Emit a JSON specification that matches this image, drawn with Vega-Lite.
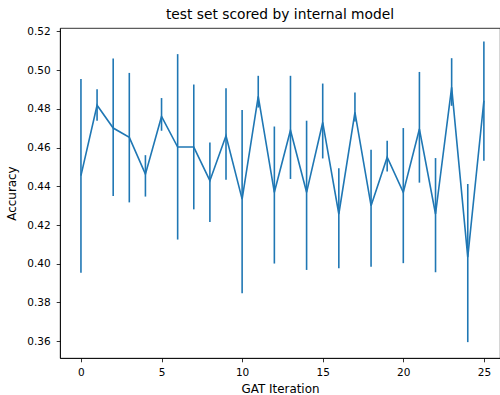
{
  "$schema": "https://vega.github.io/schema/vega-lite/v6.json",
  "autosize": {"type": "none"},
  "padding": {"left": 60, "top": 28, "right": 0, "bottom": 37},
  "width": 440,
  "height": 330,
  "title": {"text": "test set scored by internal model", "font": "DejaVu Sans", "fontSize": 13.8, "fontWeight": "normal", "color": "#000", "offset": 5},
  "config": {
    "view": {"stroke": "#000", "strokeWidth": 0.8},
    "axis": {
      "labelFont": "DejaVu Sans", "labelFontSize": 10.5, "labelColor": "#000",
      "titleFont": "DejaVu Sans", "titleFontSize": 11.9, "titleFontWeight": "normal", "titleColor": "#000",
      "domainColor": "#000", "domainWidth": 0.8, "tickColor": "#000", "tickWidth": 0.8, "tickSize": 3.8,
      "grid": false
    }
  },
  "data": {"values": [
    {"x": 0, "mean": 0.4455, "lo": 0.3953, "hi": 0.4954},
    {"x": 1, "mean": 0.4819, "lo": 0.4739, "hi": 0.4902},
    {"x": 2, "mean": 0.4701, "lo": 0.4350, "hi": 0.5060},
    {"x": 3, "mean": 0.4653, "lo": 0.4317, "hi": 0.4986},
    {"x": 4, "mean": 0.4463, "lo": 0.4347, "hi": 0.4561},
    {"x": 5, "mean": 0.4761, "lo": 0.4687, "hi": 0.4856},
    {"x": 6, "mean": 0.4603, "lo": 0.4125, "hi": 0.5083},
    {"x": 7, "mean": 0.4603, "lo": 0.4281, "hi": 0.4926},
    {"x": 8, "mean": 0.4429, "lo": 0.4216, "hi": 0.4627},
    {"x": 9, "mean": 0.4661, "lo": 0.4434, "hi": 0.4907},
    {"x": 10, "mean": 0.4334, "lo": 0.3848, "hi": 0.4794},
    {"x": 11, "mean": 0.4865, "lo": 0.4807, "hi": 0.4971},
    {"x": 12, "mean": 0.4369, "lo": 0.4001, "hi": 0.4709},
    {"x": 13, "mean": 0.4690, "lo": 0.4438, "hi": 0.4971},
    {"x": 14, "mean": 0.4369, "lo": 0.3968, "hi": 0.4739},
    {"x": 15, "mean": 0.4730, "lo": 0.4544, "hi": 0.4931},
    {"x": 16, "mean": 0.4257, "lo": 0.3977, "hi": 0.4494},
    {"x": 17, "mean": 0.4782, "lo": 0.4735, "hi": 0.4885},
    {"x": 18, "mean": 0.4300, "lo": 0.3985, "hi": 0.4589},
    {"x": 19, "mean": 0.4550, "lo": 0.4477, "hi": 0.4635},
    {"x": 20, "mean": 0.4369, "lo": 0.4003, "hi": 0.4701},
    {"x": 21, "mean": 0.4696, "lo": 0.4419, "hi": 0.4991},
    {"x": 22, "mean": 0.4257, "lo": 0.3956, "hi": 0.4546},
    {"x": 23, "mean": 0.4911, "lo": 0.4816, "hi": 0.5062},
    {"x": 24, "mean": 0.4034, "lo": 0.3595, "hi": 0.4412},
    {"x": 25, "mean": 0.4842, "lo": 0.4532, "hi": 0.5148}
  ]},
  "encoding": {
    "x": {"field": "x", "type": "quantitative", "title": "GAT Iteration",
      "scale": {"domain": [-1.3, 26.0], "nice": false, "zero": false},
      "axis": {"values": [0, 5, 10, 15, 20, 25], "labelPadding": 6, "titlePadding": 5}}
  },
  "layer": [
    {
      "mark": {"type": "rule", "color": "#1f77b4", "strokeWidth": 1.6},
      "encoding": {
        "y": {"field": "lo", "type": "quantitative", "title": "Accuracy",
          "scale": {"domain": [0.3513, 0.5218], "nice": false, "zero": false},
          "axis": {"values": [0.36, 0.38, 0.40, 0.42, 0.44, 0.46, 0.48, 0.50, 0.52], "format": ".2f", "labelPadding": 6, "titlePadding": 9}},
        "y2": {"field": "hi"}
      }
    },
    {
      "mark": {"type": "line", "color": "#1f77b4", "strokeWidth": 1.6},
      "encoding": {
        "y": {"field": "mean", "type": "quantitative"}
      }
    }
  ]
}
